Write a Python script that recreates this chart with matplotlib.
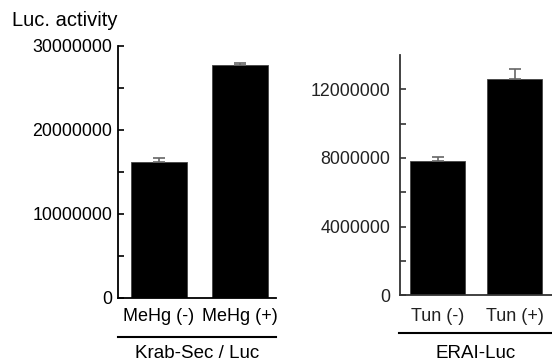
import numpy as np
import matplotlib
matplotlib.use("Agg")
import matplotlib.pyplot as plt
from matplotlib.lines import Line2D

plt.rcParams['font.family'] = ['Liberation Sans', 'DejaVu Sans']

# left panel: Krab-Sec / Luc
krab_labels = ['MeHg (-)', 'MeHg (+)']
krab_values = [16150000, 27740000]
krab_errors = [550000, 200000]
krab_ticks = [0, 10000000, 20000000, 30000000]
krab_minor = [5000000, 15000000, 25000000]

# right panel: ERAI-Luc
erai_labels = ['Tun (-)', 'Tun (+)']
erai_values = [7800000, 12630000]
erai_errors = [250000, 530000]
erai_ticks = [0, 4000000, 8000000, 12000000]
erai_minor = [2000000, 6000000, 10000000]

W, H = 552, 362
fig = plt.figure(figsize=(W / 100, H / 100), dpi=100)


def px_axes(x0, x1, ytop, ybot):
    return fig.add_axes([x0 / W, (H - ybot) / H, (x1 - x0) / W, (ybot - ytop) / H])


def style(ax, ticks, minor, ymax, pad, spine_col, tick_col):
    ax.set_ylim(0, ymax)
    ax.set_yticks(ticks)
    ax.set_yticklabels([str(t) for t in ticks])
    ax.set_yticks(minor, minor=True)
    for s in ['top', 'right']:
        ax.spines[s].set_visible(False)
    for s in ['left', 'bottom']:
        ax.spines[s].set_linewidth(1.3)
        ax.spines[s].set_color(spine_col)
    ax.tick_params(axis='y', which='both', direction='in', length=4,
                   width=1.2, color=spine_col, labelsize=12.8, pad=pad,
                   labelcolor=tick_col)
    ax.tick_params(axis='x', length=0, labelsize=13, labelcolor=tick_col)


def group_line(x0, x1, y, text, ty):
    fig.add_artist(Line2D([x0 / W, x1 / W], [(H - y) / H, (H - y) / H],
                          color='black', lw=1.5))
    fig.text((x0 + x1) / 2 / W, (H - ty) / H, text, ha='center', va='center',
             fontsize=13.5)


# left
ax1 = px_axes(118, 276, 46, 298)
x = np.arange(len(krab_labels))
ax1.bar(x, krab_values, width=0.69, color='black', edgecolor='#444444', lw=0.6)
ax1.errorbar(x, krab_values, yerr=[[0, 0], krab_errors], fmt='none',
             ecolor='#666666', elinewidth=1.2, capsize=4, capthick=1.2)
ax1.set_xlim(-0.506, 1.444)
style(ax1, krab_ticks, krab_minor, 30000000, 4, 'black', 'black')
ax1.set_xticks(x)
ax1.set_xticklabels(krab_labels)
ax1.tick_params(axis='x', pad=7)
group_line(118, 276, 336.7, 'Krab-Sec / Luc', 353)

# right
ax2 = px_axes(400, 552, 55, 295.3)
x = np.arange(len(erai_labels))
ax2.bar(x, erai_values, width=0.71, color='black', edgecolor='#444444', lw=0.6)
ax2.errorbar(x, erai_values, yerr=[[0, 0], erai_errors], fmt='none',
             ecolor='#666666', elinewidth=1.2, capsize=4, capthick=1.2)
ax2.set_xlim(-0.49, 1.484)
style(ax2, erai_ticks, erai_minor, 14000000, 7, '#333333', '#222222')
ax2.set_xticks(x)
ax2.set_xticklabels(erai_labels)
ax2.tick_params(axis='x', pad=9)
group_line(399, 552, 333.3, 'ERAI-Luc', 353)

fig.text(12 / W, (H - 21) / H, 'Luc. activity', ha='left', va='center', fontsize=14.5)

fig.savefig('out.png', dpi=100)
